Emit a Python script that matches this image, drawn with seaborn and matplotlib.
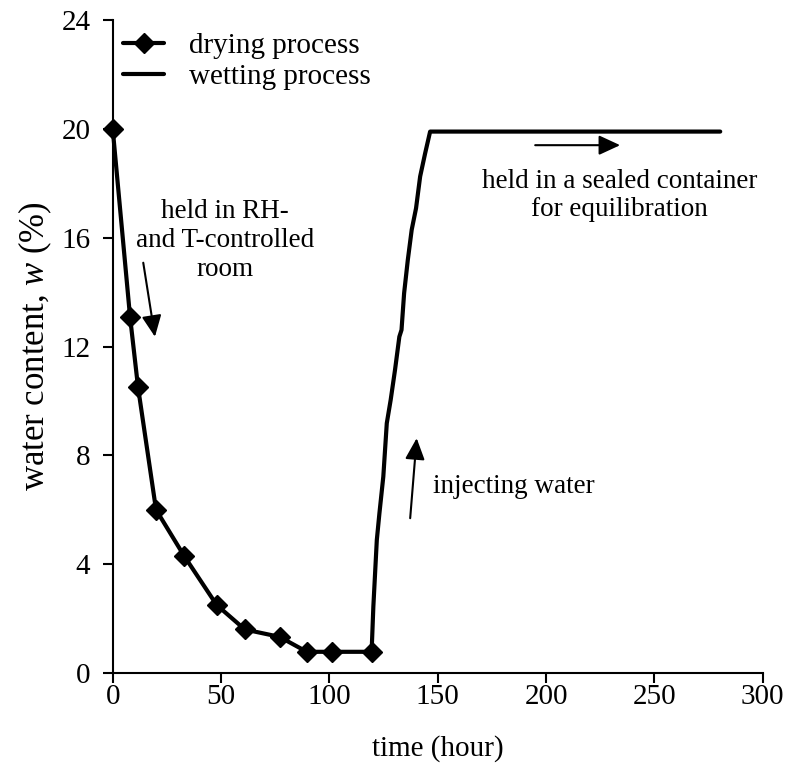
import matplotlib
matplotlib.use("Agg")
import matplotlib.pyplot as plt
import numpy as np
import pandas as pd
import seaborn as sns

# data
drying_time = [0, 8, 11.7, 20, 33, 48, 61, 77, 89.6, 101.4, 119.5]
drying_w = [20.0, 13.1, 10.5, 6.0, 4.3, 2.5, 1.6, 1.33, 0.78, 0.78, 0.78]

wetting_time = [119.5, 120.3, 121.9, 123.1, 124.9, 126.5, 128.3, 130.3, 132.3, 133.3,
                134.5, 136.2, 138.0, 140.0, 141.9, 144.2, 146.5, 280.4]
wetting_w = [0.78, 2.44, 4.89, 5.87, 7.22, 9.18, 10.04, 11.14, 12.36, 12.61,
             13.96, 15.18, 16.29, 17.08, 18.25, 19.1, 19.9, 19.9]

x_ticks = [0, 50, 100, 150, 200, 250, 300]
y_ticks = [0, 4, 8, 12, 16, 20, 24]

# style
sns.set_style("ticks")
plt.rcParams['font.family'] = ['Liberation Serif', 'DejaVu Serif']
plt.rcParams['mathtext.fontset'] = 'custom'
plt.rcParams['mathtext.rm'] = 'Liberation Serif'
plt.rcParams['mathtext.it'] = 'Liberation Serif:italic'
plt.rcParams['text.color'] = 'black'
plt.rcParams['axes.labelcolor'] = 'black'

df_dry = pd.DataFrame({'time': drying_time, 'w': drying_w})
df_wet = pd.DataFrame({'time': wetting_time, 'w': wetting_w})

fig = plt.figure(figsize=(7.92, 7.76), dpi=100)
ax = fig.add_axes([0.1423, 0.1327, 0.8207, 0.8415])

sns.lineplot(x='time', y='w', data=df_dry, ax=ax, color='black', linewidth=3,
             marker='D', markersize=10, markeredgecolor='black', markeredgewidth=1,
             estimator=None, sort=False, label='drying process', clip_on=False, zorder=3)
sns.lineplot(x='time', y='w', data=df_wet, ax=ax, color='black', linewidth=3,
             estimator=None, sort=False, label='wetting process', clip_on=False, zorder=2)

ax.set_xlim(0, 300)
ax.set_ylim(0, 24)
ax.set_xticks(x_ticks)
ax.set_yticks(y_ticks)
ax.tick_params(direction='out', length=7, width=1.5, labelsize=21, colors='black')
ax.tick_params(axis='x', pad=1)
ax.tick_params(axis='y', pad=9)
for s in ['left', 'bottom']:
    ax.spines[s].set_linewidth(1.5)
    ax.spines[s].set_color('black')
sns.despine(ax=ax)

ax.set_xlabel('time (hour)', fontsize=21, labelpad=18)
ax.set_ylabel('water content, $\\mathit{w}$ (%)', fontsize=25, labelpad=5)

# annotations
arrow = dict(arrowstyle='-|>,head_length=0.65,head_width=0.3', color='black', lw=1.5,
             shrinkA=0, shrinkB=0, mutation_scale=20)
ax.annotate('', xy=(19.5, 12.36), xytext=(14.1, 15.08), arrowprops=arrow)
ax.annotate('', xy=(234.2, 19.4), xytext=(195, 19.4), arrowprops=arrow)
ax.annotate('', xy=(140.3, 8.63), xytext=(137.3, 5.69), arrowprops=arrow)

ax.text(52, 15.9, 'held in RH-\nand T-controlled\nroom', fontsize=19.5, ha='center',
        va='center', linespacing=1.2)
ax.text(234, 17.55, 'held in a sealed container\nfor equilibration', fontsize=19.5,
        ha='center', va='center', linespacing=1.15)
ax.text(148, 6.85, 'injecting water', fontsize=19.5, ha='left', va='center')

ax.legend(loc='upper left', bbox_to_anchor=(0.016, 0.981), frameon=False, fontsize=21,
          borderpad=0, borderaxespad=0, handlelength=1.4, handletextpad=0.85,
          labelspacing=0.17)

plt.savefig('out.png', dpi=100)
